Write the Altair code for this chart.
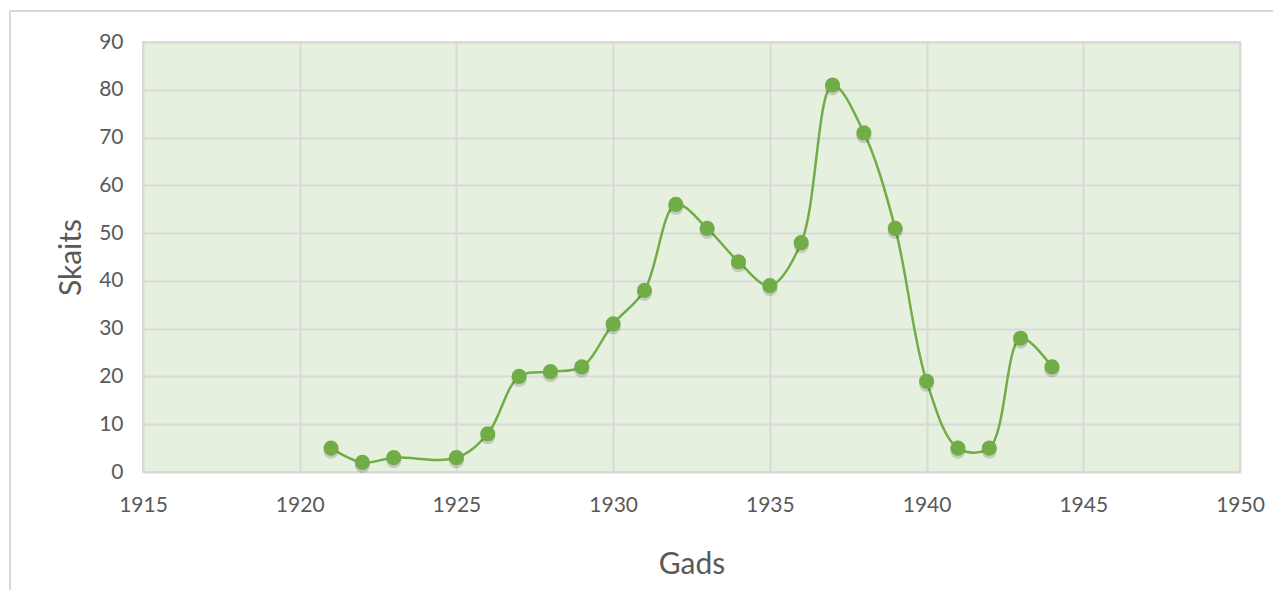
import altair as alt
import pandas as pd

years = [1921, 1922, 1923, 1925, 1926, 1927, 1928, 1929, 1930, 1931, 1932, 1933,
         1934, 1935, 1936, 1937, 1938, 1939, 1940, 1941, 1942, 1943, 1944]
counts = [5, 2, 3, 3, 8, 20, 21, 22, 31, 38, 56, 51,
          44, 39, 48, 81, 71, 51, 19, 5, 5, 28, 22]
x_ticks = [1915, 1920, 1925, 1930, 1935, 1940, 1945, 1950]
y_ticks = [0, 10, 20, 30, 40, 50, 60, 70, 80, 90]

df = pd.DataFrame({"Gads": years, "Skaits": counts})

GREEN = "#70ad47"
TXT = "#595959"
GRID = "#d9d9d9"
FONT = "Lato"

x_enc = alt.X("Gads:Q",
              scale=alt.Scale(domain=[1915, 1950], nice=False, zero=False),
              axis=alt.Axis(values=x_ticks, format="d", title="Gads",
                            titleY=101, titleBaseline="alphabetic",
                            labelPadding=22, labelFlush=False))
y_enc = alt.Y("Skaits:Q",
              scale=alt.Scale(domain=[0, 90], nice=False),
              axis=alt.Axis(values=y_ticks, title="Skaits",
                            titleX=-63, titleY=215, titleAngle=270,
                            titleBaseline="alphabetic", labelPadding=20,
                            labelFlush=False))

base = alt.Chart(df)

line = base.mark_line(color=GREEN, strokeWidth=2.5, interpolate="catmull-rom").encode(
    x=x_enc, y=y_enc)
shadow = base.mark_circle(color="#000000", opacity=0.15, size=230, yOffset=3).encode(
    x="Gads:Q", y="Skaits:Q")
points = base.mark_circle(color=GREEN, opacity=1, size=230).encode(
    x="Gads:Q", y="Skaits:Q")

deco = alt.Chart(pd.DataFrame({"a": [0]}))
border_left = deco.mark_rule(color=GRID, strokeWidth=2).encode(
    x=alt.value(-133), y=alt.value(-31), y2=alt.value(700))
border_top = deco.mark_rule(color=GRID, strokeWidth=2).encode(
    x=alt.value(-133), x2=alt.value(1300), y=alt.value(-31))

chart = alt.layer(border_left, border_top, line, shadow, points).properties(
    width=1097, height=430,
    autosize=alt.AutoSizeParams(type="none"),
    padding={"left": 135, "top": 34, "right": 33, "bottom": 118},
    background="white",
).configure_view(
    fill="#e6f0df", stroke=GRID, strokeWidth=2
).configure_axis(
    grid=True, gridColor=GRID, gridWidth=2, domain=False, ticks=False,
    labelFont=FONT, labelFontSize=21, labelColor=TXT,
    titleFont=FONT, titleFontSize=30, titleColor=TXT, titleFontWeight="normal",
)

chart.save("out.html", embed_options={"renderer": "svg", "actions": False})
